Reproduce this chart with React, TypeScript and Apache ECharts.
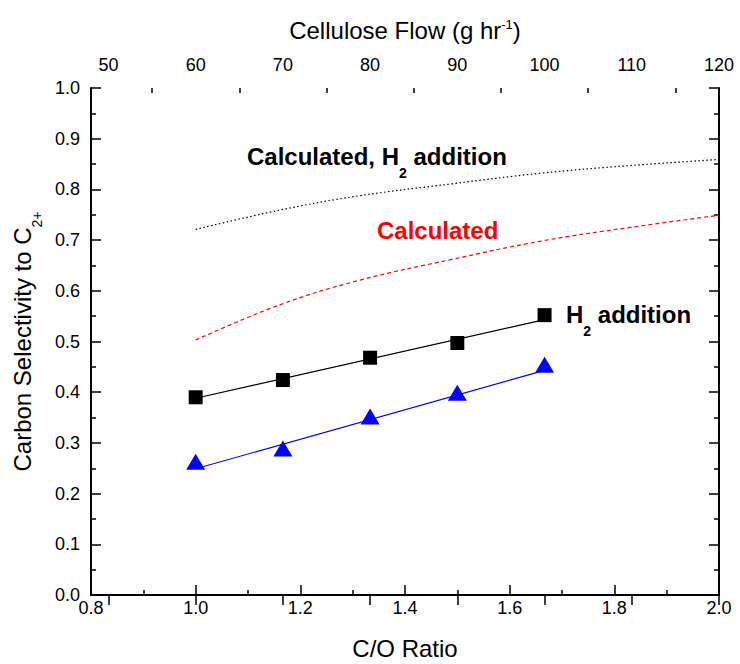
import React, { useEffect, useRef } from "react";
import * as echarts from "echarts";

// ---- data ----
const coRatio = [1.0, 1.1667, 1.3333, 1.5, 1.6667];
const h2Addition = [0.39, 0.424, 0.468, 0.497, 0.552];
const noAddition = [0.263, 0.289, 0.352, 0.399, 0.454];

const fitX = [1.0, 1.6667];
const h2FitY = [0.388, 0.543];
const baseFitY = [0.249, 0.443];

const calcX = [1.0, 1.16, 1.31, 1.49, 1.66, 1.83, 2.0];
const calcH2 = [0.721, 0.759, 0.787, 0.811, 0.832, 0.847, 0.859];
const calcBase = [0.503, 0.572, 0.62, 0.662, 0.698, 0.725, 0.749];

const flowMajor = [50, 60, 70, 80, 90, 100, 110, 120];
const flowMinor = [55, 65, 75, 85, 95, 105, 115];

const FONT = "'Liberation Sans', Arial, sans-serif";

const zip = (xs: number[], ys: number[]) => xs.map((x, i) => [x, ys[i]]);

export default function App() {
  const ref = useRef<HTMLDivElement>(null);
  useEffect(() => {
    if (!ref.current) return;
    const chart = echarts.init(ref.current, null, { renderer: "svg" });
    const black = "#000";
    const axisLine = { show: true, lineStyle: { color: black, width: 2 } };
    const majorTick = { show: true, inside: true, length: 10, lineStyle: { color: black, width: 1.5 } };
    const minorTick = { show: true, splitNumber: 2, length: 5, lineStyle: { color: black, width: 1.5 } };
    const tickLabel = { color: black, fontFamily: FONT, fontSize: 18 };
    const annRich = {
      b: { fontFamily: FONT, fontSize: 24, fontWeight: "bold", fill: black, lineHeight: 28, verticalAlign: "top" },
      s: { fontFamily: FONT, fontSize: 14, fontWeight: "bold", fill: black, lineHeight: 14, verticalAlign: "top", padding: [21, 0, 0, 0] },
    };

    chart.setOption({
      animation: false,
      backgroundColor: "#fff",
      grid: { left: 91, right: 21, top: 88, bottom: 69, containLabel: false, outerBoundsMode: "none" },
      xAxis: [
        {
          type: "value",
          position: "bottom",
          min: 0.8,
          max: 2.0,
          interval: 0.2,
          axisLine,
          axisTick: majorTick,
          minorTick,
          splitLine: { show: false },
          axisLabel: { ...tickLabel, margin: 4, formatter: (v: number) => v.toFixed(1) },
          name: "C/O Ratio",
          nameLocation: "middle",
          nameGap: 44,
          nameTextStyle: { color: black, fontFamily: FONT, fontSize: 24, lineHeight: 18 },
        },
        {
          type: "value",
          position: "top",
          min: 48,
          max: 120,
          axisLine,
          axisTick: { ...majorTick, customValues: flowMajor },
          splitLine: { show: false },
          axisLabel: { ...tickLabel, margin: 14, customValues: flowMajor, formatter: (v: number) => String(v) },
          name: "{n|Cellulose Flow (g hr}{sup|-1}{n|)}",
          nameLocation: "middle",
          nameGap: 44,
          nameTextStyle: {
            color: black,
            fontFamily: FONT,
            fontSize: 24,
            rich: {
              n: { fontFamily: FONT, fontSize: 24, color: black, lineHeight: 26, verticalAlign: "top" },
              sup: { fontFamily: FONT, fontSize: 13, color: black, lineHeight: 13, verticalAlign: "top" },
            },
          },
        },
        {
          type: "value",
          position: "top",
          min: 48,
          max: 120,
          axisLine: { show: false },
          axisTick: { show: true, inside: true, length: 5, customValues: flowMinor, lineStyle: { color: black, width: 1.5 } },
          axisLabel: { show: false },
          splitLine: { show: false },
        },
      ],
      yAxis: [
        {
          type: "value",
          position: "left",
          min: 0,
          max: 1,
          interval: 0.1,
          axisLine,
          axisTick: majorTick,
          minorTick,
          splitLine: { show: false },
          axisLabel: { ...tickLabel, margin: 11, formatter: (v: number) => v.toFixed(1) },
          name: "{n|Carbon Selectivity to C}{s|2+}",
          nameLocation: "middle",
          nameGap: 46,
          nameTextStyle: {
            color: black,
            fontFamily: FONT,
            fontSize: 24,
            rich: {
              n: { fontFamily: FONT, fontSize: 24, color: black, lineHeight: 28, verticalAlign: "top" },
              s: { fontFamily: FONT, fontSize: 14, color: black, lineHeight: 14, verticalAlign: "top", padding: [20, 0, 0, 0] },
            },
          },
        },
        {
          type: "value",
          position: "right",
          min: 0,
          max: 1,
          interval: 0.1,
          axisLine,
          axisTick: majorTick,
          minorTick,
          splitLine: { show: false },
          axisLabel: { show: false },
        },
      ],
      series: [
        {
          name: "Calculated, H2 addition",
          type: "line",
          data: zip(calcX, calcH2),
          smooth: 0.4,
          showSymbol: false,
          symbol: "none",
          lineStyle: { color: black, width: 1.2, type: [1.5, 2.5] },
          z: 2,
        },
        {
          name: "Calculated",
          type: "line",
          data: zip(calcX, calcBase),
          smooth: 0.4,
          showSymbol: false,
          symbol: "none",
          lineStyle: { color: "#ff0000", width: 1.2, type: [4, 3] },
          z: 2,
        },
        {
          name: "H2 fit",
          type: "line",
          data: zip(fitX, h2FitY),
          symbol: "none",
          lineStyle: { color: black, width: 1.2 },
          z: 2,
        },
        {
          name: "base fit",
          type: "line",
          data: zip(fitX, baseFitY),
          symbol: "none",
          lineStyle: { color: "#0000ff", width: 1.2 },
          z: 2,
        },
        {
          name: "H2 addition",
          type: "scatter",
          data: zip(coRatio, h2Addition),
          symbol: "rect",
          symbolSize: 14,
          itemStyle: { color: black, opacity: 1 },
          z: 3,
        },
        {
          name: "No addition",
          type: "scatter",
          data: zip(coRatio, noAddition),
          symbol: "triangle",
          symbolSize: [19, 16],
          itemStyle: { color: "#0000ff", opacity: 1 },
          z: 3,
        },
      ],
      graphic: [
        {
          type: "text",
          x: 247,
          y: 144.5,
          style: {
            text: "{b|Calculated, H}{s|2}{b| addition}",
            verticalAlign: "top",
            rich: annRich,
          },
        },
        {
          type: "text",
          x: 377,
          y: 230,
          style: {
            text: "Calculated",
            fontFamily: FONT,
            fontSize: 24,
            fontWeight: "bold",
            fill: "#ff0000",
            verticalAlign: "middle",
          },
        },
        {
          type: "text",
          x: 566,
          y: 302.5,
          style: {
            text: "{b|H}{s|2}{b| addition}",
            verticalAlign: "top",
            rich: annRich,
          },
        },
      ],
    });
    return () => chart.dispose();
  }, []);
  return (
    <div
      ref={ref}
      style={{ position: "absolute", left: 0, top: 0, width: 740, height: 664, background: "#fff" }}
    />
  );
}
